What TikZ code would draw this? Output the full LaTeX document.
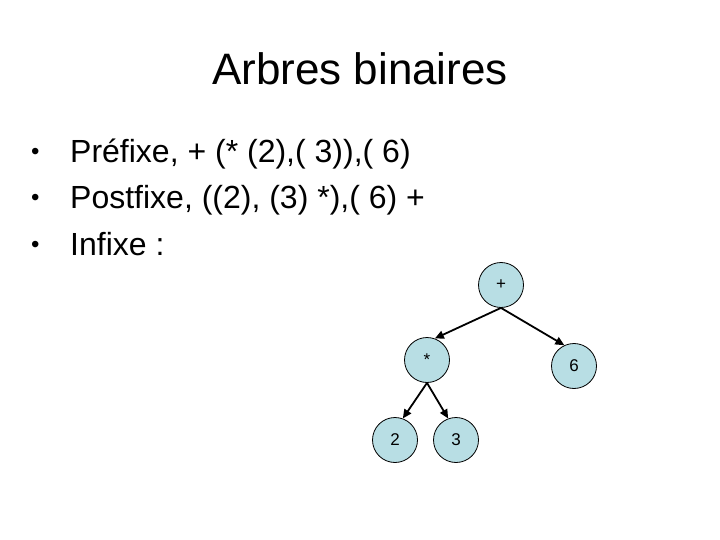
\documentclass[tikz,border=0pt]{standalone}
\usepackage{fontspec}
\setmainfont{Liberation Sans}
\usetikzlibrary{arrows.meta}
\definecolor{nodefill}{RGB}{184,222,228}
\tikzset{
  treenode/.style={circle,draw=black,line width=0.8pt,fill=nodefill,minimum size=45pt,inner sep=0pt,font=\fontsize{17}{20}\selectfont},
  arr/.style={line width=1.8pt,-{Triangle[length=9pt,width=8pt]}},
  bodytext/.style={anchor=base west,inner sep=0pt,font=\fontsize{32}{38}\selectfont},
  bullettext/.style={anchor=base west,inner sep=0pt,font=\fontsize{24}{28}\selectfont},
}
\begin{document}
\begin{tikzpicture}[x=1pt,y=-1pt]
\useasboundingbox (0,0) rectangle (720,540);
\fill[white] (0,0) rectangle (720,540);
\node[anchor=base,inner sep=0pt,font=\fontsize{44}{52}\selectfont] (title) at (360,85) {Arbres binaires};
\node[bullettext] (b1) at (31,160) {•};
\node[bullettext] (b2) at (31,206) {•};
\node[bullettext] (b3) at (31,252) {•};
\node[bodytext] (t1) at (70,163) {Préfixe, + (* (2),( 3)),( 6)};
\node[bodytext] (t2) at (70,209) {Postfixe, ((2), (3) *),( 6) +};
\node[bodytext] (t3) at (70,255) {Infixe :};
\node[treenode] (plus) at (501,285) {+};
\node[treenode] (mul) at (427,360) {*};
\node[treenode] (six) at (574,366) {6};
\node[treenode] (two) at (395,440) {2};
\node[treenode] (three) at (456,440) {3};
\draw[arr] (plus.south) -- (mul.70);
\draw[arr] (plus.south) -- (six.115);
\draw[arr] (mul.south) -- (two.70);
\draw[arr] (mul.south) -- (three.110);
\end{tikzpicture}
\end{document}
